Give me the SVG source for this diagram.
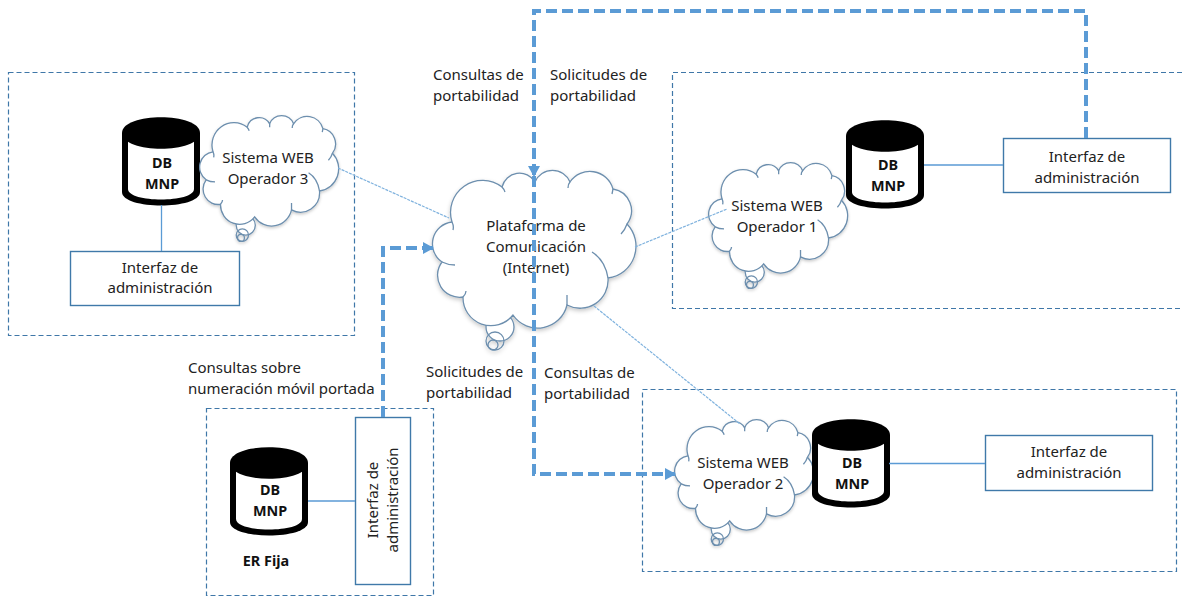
<svg xmlns="http://www.w3.org/2000/svg" width="1182" height="596" viewBox="0 0 1182 596">
<style>
text{font-family:"Noto Sans","Liberation Sans",sans-serif;font-size:15px;fill:#222;text-anchor:middle}
.l{text-anchor:start}
.b{font-weight:700;fill:#111;font-size:14.4px}
.zone{fill:none;stroke:#3f77a8;stroke-width:1.2;stroke-dasharray:5 3}
.box{fill:#fff;stroke:#3f79a9;stroke-width:1.4}
.thin{fill:none;stroke:#5b9bd5;stroke-width:1.3}
.dot{fill:none;stroke:#7fb2de;stroke-width:1.2;stroke-dasharray:3 1}
.thick{fill:none;stroke:#5b9bd5;stroke-width:4;stroke-dasharray:11 5}
.cl{fill:#fff;stroke:#6d8fae;stroke-width:1.3;vector-effect:non-scaling-stroke}
.in{fill:none;stroke:#6d8fae;stroke-width:1.3;vector-effect:non-scaling-stroke}
</style>
<defs>
<filter id="sh" x="-10%" y="-10%" width="120%" height="125%"><feDropShadow dx="0" dy="2" stdDeviation="2" flood-color="#000" flood-opacity=".22"/></filter>
<marker id="ah" markerUnits="userSpaceOnUse" markerWidth="12" markerHeight="12" refX="10" refY="6" orient="auto"><path d="M0 0L11 6L0 12Z" fill="#5b9bd5"/></marker>
<g id="cloud">
<g filter="url(#sh)">
<circle class="cl" cx="67" cy="159" r="14"/><circle class="in" cx="62" cy="173" r="9"/><circle class="in" cx="60" cy="177" r="5"/>
<path class="cl" d="M19 54A32 32 0 0 1 69 19A18 18 0 0 1 102 14A19 19 0 0 1 137 14A24 24 0 0 1 180 21A22 22 0 0 1 194 56A32 32 0 0 1 175 110A28 28 0 0 1 134 137A30 30 0 0 1 80 147A28 28 0 0 1 30 129A22 22 0 0 1 9 94A22 22 0 0 1 19 54Z"/>
</g>
<path class="in" d="M9 94Q15 97 22 97M19 54Q21 58 20 62M159 84Q172 92 175 110M194 56Q192 62 188 66M180 21L179 26M137 14Q135 16 135 20M69 19Q71 21 72 24M102 14L102 19M30 129Q33 126 33 123M134 137L134 127"/>
</g>
<g id="db"><path d="M0 16V75C0 93 78 93 78 75V16Z" fill="#000"/><path d="M6 20V72C6 86 72 86 72 72V20Z" fill="#fff"/><path d="M0 16C0-5 78-5 78 16C78 37 0 37 0 16Z" fill="#000"/></g>
</defs>
<rect width="1182" height="596" fill="#fff"/>
<g id="zona-operador-3"><rect class="zone" x="8.500" y="72.500" width="346" height="263"/></g>
<g id="zona-operador-1"><path class="zone" d="M1182 72.500H672.500V308.500H1182"/></g>
<g id="zona-operador-2"><rect class="zone" x="642.500" y="389.500" width="534" height="182"/></g>
<g id="zona-er-fija"><rect class="zone" x="206.500" y="408.500" width="227" height="187"/></g>

<g id="plataforma"><use href="#cloud" transform="translate(433 168)"/><text x="536" y="231">Plataforma de</text><text x="536" y="252">Comunicación</text><text x="536" y="273">(Internet)</text></g>

<g id="db-op3"><use href="#db" transform="translate(122 117)"/><text class="b" x="162" y="168">DB</text><text class="b" x="162" y="189">MNP</text></g>
<g id="web-op3"><use href="#cloud" transform="translate(200 114) scale(.683 .70)"/><text x="268" y="163">Sistema WEB</text><text x="268" y="184">Operador 3</text></g>
<g id="admin-op3"><rect class="box" x="70.500" y="251.500" width="169" height="54"/><text x="160" y="273">Interfaz de</text><text x="160" y="293">administración</text></g>

<g id="web-op1"><use href="#cloud" transform="translate(709 161) scale(.683 .70)"/><text x="777" y="211">Sistema WEB</text><text x="777" y="232">Operador 1</text></g>
<g id="db-op1"><use href="#db" transform="translate(846 120)"/><text class="b" x="888" y="170">DB</text><text class="b" x="888" y="191">MNP</text></g>
<g id="admin-op1"><rect class="box" x="1003.500" y="138.500" width="167" height="54"/><text x="1087" y="162">Interfaz de</text><text x="1087" y="183">administración</text></g>

<g id="web-op2"><use href="#cloud" transform="translate(675 418) scale(.683 .70)"/><text x="743" y="468">Sistema WEB</text><text x="743" y="489">Operador 2</text></g>
<g id="db-op2"><use href="#db" transform="translate(812 419)"/><text class="b" x="852" y="468">DB</text><text class="b" x="852" y="489">MNP</text></g>
<g id="admin-op2"><rect class="box" x="985.500" y="435.500" width="167" height="55"/><text x="1069" y="457">Interfaz de</text><text x="1069" y="478">administración</text></g>

<g id="db-er"><use href="#db" transform="translate(230 447)"/><text class="b" x="270" y="495">DB</text><text class="b" x="270" y="516">MNP</text><text class="b" x="266" y="566">ER Fija</text></g>
<g id="admin-er"><rect class="box" x="355.500" y="417.500" width="55" height="167"/><text transform="translate(378 500) rotate(-90)">Interfaz de</text><text transform="translate(398 500) rotate(-90)">administración</text></g>

<g id="etiquetas">
<text class="l" x="433" y="80">Consultas de</text><text class="l" x="433" y="101">portabilidad</text>
<text class="l" x="550" y="80">Solicitudes de</text><text class="l" x="550" y="101">portabilidad</text>
<text class="l" x="188" y="373">Consultas sobre</text><text class="l" x="188" y="394">numeración móvil portada</text>
<text class="l" x="426" y="377">Solicitudes de</text><text class="l" x="426" y="398">portabilidad</text>
<text class="l" x="544" y="378">Consultas de</text><text class="l" x="544" y="399">portabilidad</text>
</g>

<g id="conectores">
<path class="thin" d="M161.500 205V251M308 501H355M889 463.500H985M924 165H1003"/>
<path class="dot" d="M338 168L449 218M635 247L727 209M594 306L740 424"/>
<path class="thick" d="M1086 138V11H534V176" marker-end="url(#ah)"/>
<path class="thick" d="M534 176V474H675" marker-end="url(#ah)"/>
<path class="thick" d="M383 417V248H433" marker-end="url(#ah)"/>
</g>
</svg>
